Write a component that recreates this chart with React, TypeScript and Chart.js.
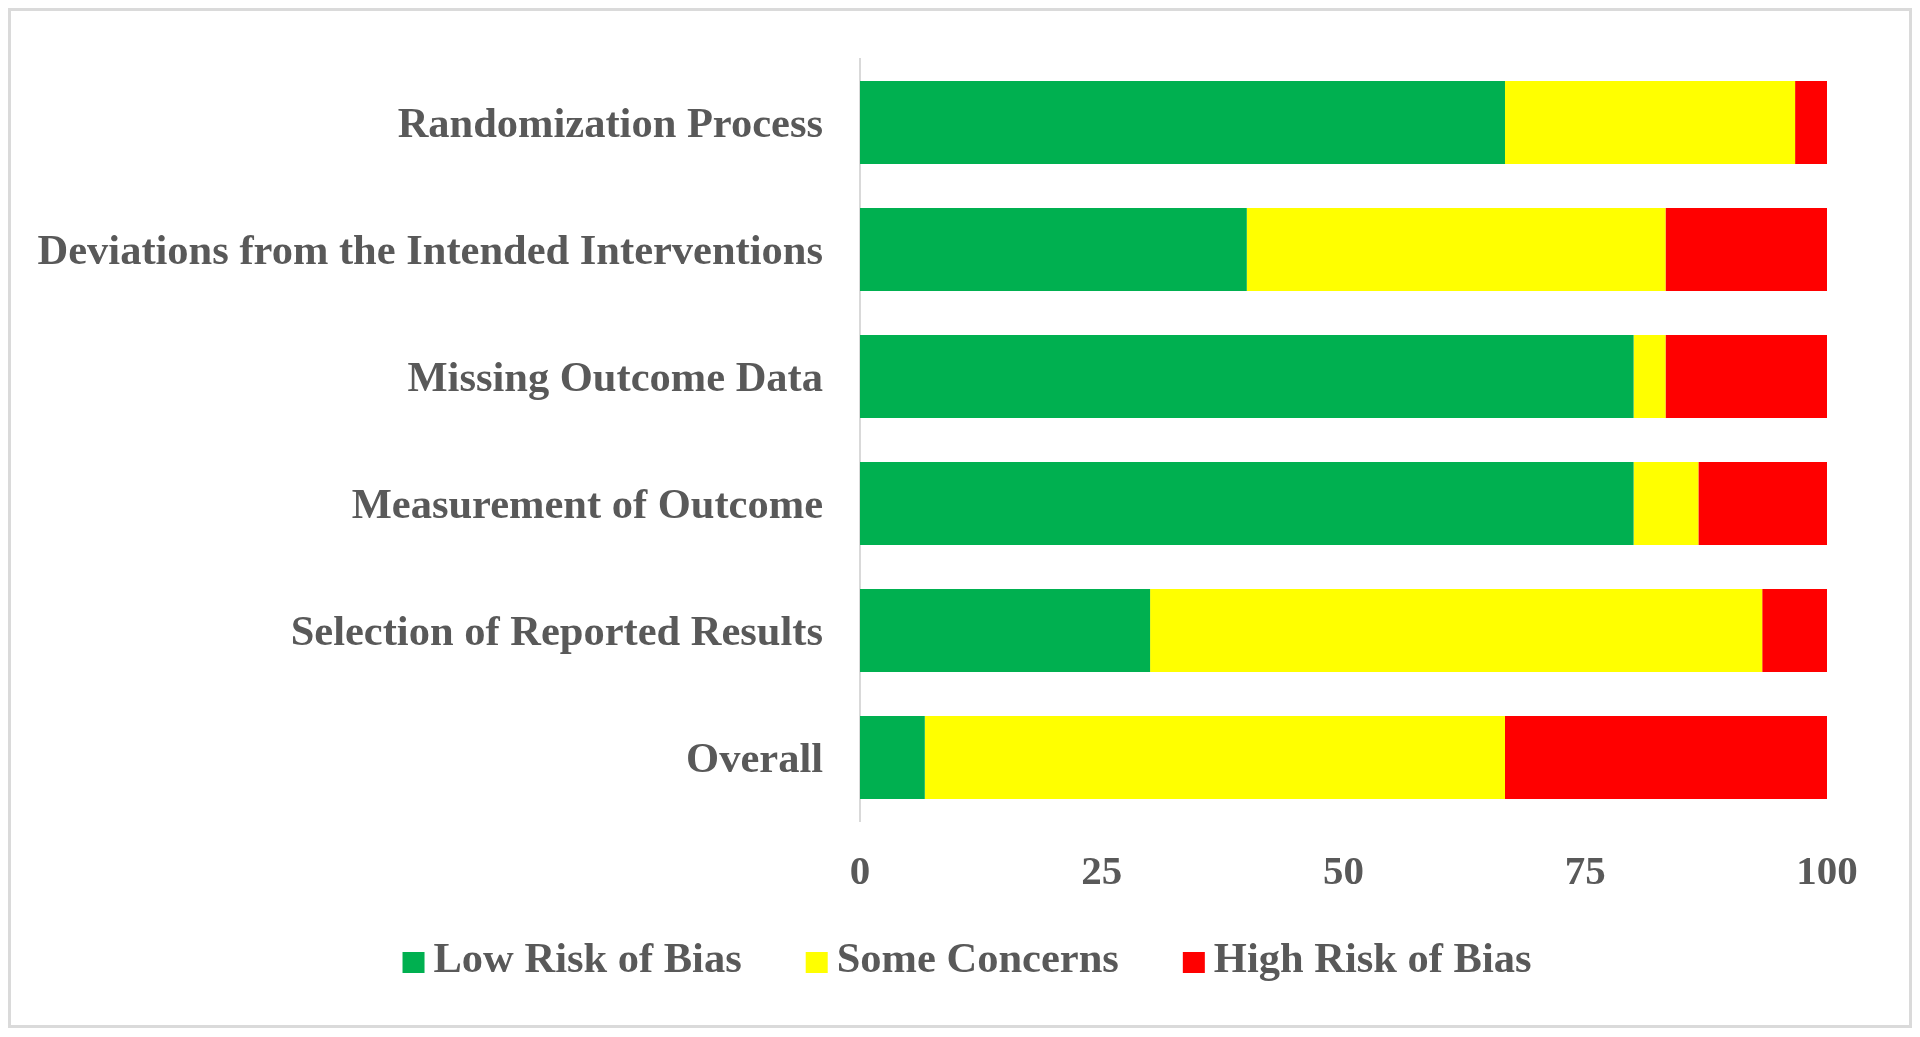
import React, { useEffect, useRef } from "react";
import { Chart, registerables } from "chart.js";

Chart.register(...registerables);

const categories = [
  "Randomization Process",
  "Deviations from the Intended Interventions",
  "Missing Outcome Data",
  "Measurement of Outcome",
  "Selection of Reported Results",
  "Overall",
];
const lowRisk = [66.7, 40, 80, 80, 30, 6.7];
const someConcerns = [30, 43.3, 3.3, 6.7, 63.3, 60];
const highRisk = [3.3, 16.7, 16.7, 13.3, 6.7, 33.3];
const seriesLabels = ["Low Risk of Bias", "Some Concerns", "High Risk of Bias"];
const xTicks = [0, 25, 50, 75, 100];

const FONT = '"Liberation Serif", "Times New Roman", serif';
const TEXT = "#595959";
const CANVAS_W = 1898;
const CANVAS_H = 1014;

const legendPlugin = {
  id: "customLegend",
  afterDraw(chart: any) {
    const ctx = chart.ctx;
    ctx.save();
    ctx.font = `bold 42.5px ${FONT}`;
    const boxW = 22;
    const boxH = 21;
    const boxGap = 9;
    const itemGap = 64;
    const items = chart.data.datasets.map((ds: any) => ({
      label: ds.label,
      color: ds.backgroundColor,
      w: ctx.measureText(ds.label).width,
    }));
    const total =
      items.reduce((s: number, it: any) => s + boxW + boxGap + it.w, 0) +
      itemGap * (items.length - 1);
    let x = 956 - total / 2;
    const baseline = 961;
    for (const it of items) {
      ctx.fillStyle = it.color;
      ctx.fillRect(x, baseline - boxH + 1, boxW, boxH);
      x += boxW + boxGap;
      ctx.fillStyle = TEXT;
      ctx.textAlign = "left";
      ctx.textBaseline = "alphabetic";
      ctx.fillText(it.label, x, baseline);
      x += it.w + itemGap;
    }
    ctx.restore();
  },
};

export default function App() {
  const ref = useRef<HTMLCanvasElement | null>(null);
  useEffect(() => {
    if (!ref.current) return;
    const chart = new Chart(ref.current, {
      type: "bar",
      data: {
        labels: categories,
        datasets: [
          { label: seriesLabels[0], data: lowRisk, backgroundColor: "#00B050" },
          { label: seriesLabels[1], data: someConcerns, backgroundColor: "#FFFF00" },
          { label: seriesLabels[2], data: highRisk, backgroundColor: "#FF0000" },
        ],
      },
      options: {
        indexAxis: "y",
        responsive: false,
        animation: false,
        devicePixelRatio: 1,
        layout: { padding: { left: 0, top: 48, right: 82, bottom: 0 } },
        datasets: {
          bar: { barPercentage: 0.654, categoryPercentage: 1, borderWidth: 0 },
        },
        plugins: {
          legend: { display: false },
          tooltip: { enabled: false },
          title: { display: false },
        },
        scales: {
          x: {
            stacked: true,
            min: 0,
            max: 100,
            afterBuildTicks: (scale: any) => {
              scale.ticks = xTicks.map((v) => ({ value: v }));
            },
            afterFit: (scale: any) => {
              scale.height = 204;
            },
            grid: { display: false, drawTicks: false },
            border: { display: false },
            ticks: {
              padding: 28,
              color: TEXT,
              font: { family: FONT, size: 41, weight: "bold", lineHeight: 1.2 },
              maxRotation: 0,
            },
          },
          y: {
            stacked: true,
            afterFit: (scale: any) => {
              scale.width = 849;
              scale.paddingTop = 0;
              scale.paddingBottom = 0;
            },
            grid: { display: false, drawTicks: false },
            border: { display: true, color: "#d9d9d9", width: 2 },
            ticks: {
              padding: 37,
              labelOffset: 4,
              color: TEXT,
              font: { family: FONT, size: 42.5, weight: "bold", lineHeight: 0.4 },
            },
          },
        },
      } as any,
      plugins: [legendPlugin],
    });
    return () => chart.destroy();
  }, []);

  return (
    <div
      style={{
        width: 1904,
        height: 1020,
        border: "3px solid #dadada",
        boxSizing: "border-box",
        background: "#ffffff",
      }}
    >
      <canvas
        ref={ref}
        width={CANVAS_W}
        height={CANVAS_H}
        style={{ display: "block", width: CANVAS_W, height: CANVAS_H }}
      />
    </div>
  );
}
